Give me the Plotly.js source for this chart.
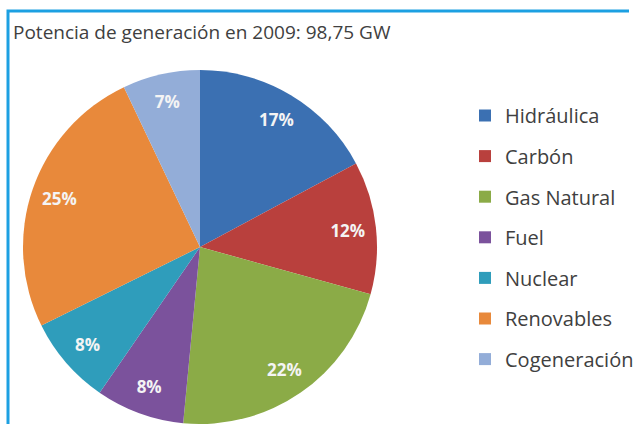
<!DOCTYPE html>
<html>
<head>
<meta charset="utf-8">
<script src="https://cdn.plot.ly/plotly-3.0.1.min.js"></script>
<style>
  html, body { margin: 0; padding: 0; background: #fff; overflow: hidden; }
  #chart { width: 634px; height: 424px; }
</style>
</head>
<body>
<div id="chart"></div>
<script>
// Potencia de generación 2009 (%)
var fuentes = ['Hidráulica', 'Carbón', 'Gas Natural', 'Fuel', 'Nuclear', 'Renovables', 'Cogeneración'];
var porcentajes = [17, 12, 22, 8, 8, 25, 7];
var colores = ['#3b70b2', '#b9403d', '#8bab47', '#7b529c', '#2f9dbb', '#e8893b', '#93add8'];

var W = 634, H = 424;
var pieDomain = { x: [23 / W, 377 / W], y: [0, 354 / H] };

// the coloured slices
var pie = {
  type: 'pie',
  labels: fuentes,
  values: porcentajes,
  sort: false,
  direction: 'clockwise',
  rotation: 0,
  marker: { colors: colores, line: { width: 0 } },
  textinfo: 'none',
  hoverinfo: 'label+value',
  showlegend: false,
  domain: pieDomain
};

// same slices again, see-through, as a ring: puts the % labels out near the rim
var etiquetas = {
  type: 'pie',
  labels: fuentes,
  values: porcentajes,
  sort: false,
  direction: 'clockwise',
  rotation: 0,
  hole: 0.68,
  marker: { colors: fuentes.map(function () { return 'rgba(0,0,0,0)'; }), line: { width: 0 } },
  texttemplate: '%{value}%',
  textposition: 'inside',
  insidetextorientation: 'horizontal',
  textfont: { family: 'Open Sans, sans-serif', size: 17, color: '#f4f4f4', weight: 'bold' },
  hoverinfo: 'skip',
  showlegend: false,
  domain: pieDomain
};

var data = [pie, etiquetas];

// legend entries as separate groups so the row spacing can be set
for (var i = 0; i < fuentes.length; i++) {
  data.push({
    type: 'scatter',
    mode: 'markers',
    x: [null],
    y: [null],
    name: fuentes[i],
    legendgroup: 'g' + i,
    marker: { symbol: 'square', size: 11, color: colores[i] },
    hoverinfo: 'skip'
  });
}

var layout = {
  width: W,
  height: H,
  margin: { l: 0, r: 0, t: 0, b: 0, autoexpand: false },
  paper_bgcolor: '#ffffff',
  plot_bgcolor: 'rgba(0,0,0,0)',
  font: { family: 'Open Sans, sans-serif', color: '#404040' },
  title: {
    text: 'Potencia de generación en 2009: 98,75 GW',
    font: { family: 'Open Sans, sans-serif', size: 19, color: '#404040' },
    x: 13 / W,
    xanchor: 'left',
    xref: 'paper',
    y: 1 - 32 / H,
    yanchor: 'middle',
    yref: 'container'
  },
  xaxis: { visible: false, domain: [0, 0.01] },
  yaxis: { visible: false, domain: [0, 0.01] },
  showlegend: true,
  legend: {
    x: 465 / W,
    xanchor: 'left',
    y: 1 - 96 / H,
    yanchor: 'top',
    font: { family: 'Open Sans, sans-serif', size: 20, color: '#404040' },
    tracegroupgap: 11.6,
    itemsizing: 'constant',
    bgcolor: 'rgba(0,0,0,0)'
  },
  shapes: [
    { type: 'path', xref: 'paper', yref: 'paper',
      path: 'M ' + (8 / W) + ',0 L ' + (8 / W) + ',' + (1 - 11 / H) + ' L ' + ((W - 5) / W) + ',' + (1 - 11 / H),
      line: { color: '#1ca0e2', width: 3 }, layer: 'above' }
  ]
};

Plotly.newPlot('chart', data, layout, { displayModeBar: false, staticPlot: true });
</script>
</body>
</html>
